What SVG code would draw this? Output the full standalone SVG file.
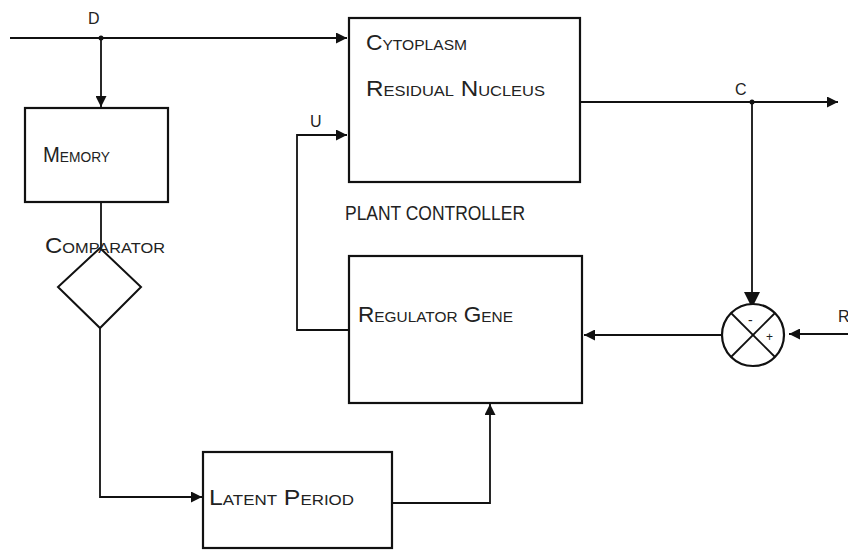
<svg xmlns="http://www.w3.org/2000/svg" width="848" height="552" viewBox="0 0 848 552">
<defs>
<marker id="ah" viewBox="0 0 10 10" refX="10" refY="5" markerWidth="15" markerHeight="11" markerUnits="userSpaceOnUse" orient="auto">
<path d="M0,0 L10,5 L0,10 z" fill="#111"/>
</marker>
<marker id="ahBig" viewBox="0 0 10 10" refX="10" refY="5" markerWidth="22" markerHeight="16" markerUnits="userSpaceOnUse" orient="auto">
<path d="M0,0 L10,5 L0,10 z" fill="#111"/>
</marker>
</defs>
<style>
.box{fill:#fff;stroke:#111;stroke-width:2.2}
.ln{fill:none;stroke:#111;stroke-width:1.8}
.t{font-family:"Liberation Sans Narrow","Liberation Sans",sans-serif;font-size:22px;fill:#222;font-variant:small-caps}
.lab{font-family:"Liberation Sans",sans-serif;font-size:16px;fill:#222}
</style>
<rect width="848" height="552" fill="#fff"/>
<g id="connectors">
<path class="ln" d="M10,38 L347,38" marker-end="url(#ah)"/>
<path class="ln" d="M101,38 L101,107" marker-end="url(#ah)"/>
<path class="ln" d="M101,203 L101,248"/>
<path class="ln" d="M100,328 L100,497 L202,497" marker-end="url(#ah)"/>
<path class="ln" d="M392,503 L490,503 L490,404" marker-end="url(#ah)"/>
<path class="ln" d="M349,330 L297,330 L297,135 L347,135" marker-end="url(#ah)"/>
<path class="ln" d="M580,102 L838,102" marker-end="url(#ah)"/>
<path class="ln" d="M752,102 L752,308" marker-end="url(#ahBig)"/>
<path class="ln" d="M848,334 L789,334" marker-end="url(#ah)"/>
<path class="ln" d="M721,335 L584,335" marker-end="url(#ah)"/>
<circle cx="101" cy="38" r="2.5" fill="#111"/>
<circle cx="752" cy="102" r="2.5" fill="#111"/>
</g>
<g id="plant">
<rect class="box" x="349" y="18" width="231" height="164"/>
<text class="t" x="366" y="50" textLength="101" lengthAdjust="spacingAndGlyphs">Cytoplasm</text>
<text class="t" x="366" y="96" textLength="179" lengthAdjust="spacingAndGlyphs">Residual Nucleus</text>
<text class="t" x="345" y="220" textLength="180" lengthAdjust="spacingAndGlyphs" style="font-variant:normal;font-size:21px">PLANT CONTROLLER</text>
</g>
<g id="memory">
<rect class="box" x="25" y="108" width="143" height="94"/>
<text class="t" x="43" y="162" textLength="67" lengthAdjust="spacingAndGlyphs">Memory</text>
</g>
<g id="comparator">
<polygon class="box" points="100,248 141,287 100,328 58,287" style="stroke-width:2"/>
<text class="t" x="45" y="253" textLength="120" lengthAdjust="spacingAndGlyphs">Comparator</text>
</g>
<g id="regulator">
<rect class="box" x="349" y="256" width="233" height="147"/>
<text class="t" x="358" y="322" textLength="155" lengthAdjust="spacingAndGlyphs">Regulator Gene</text>
</g>
<g id="latent">
<rect class="box" x="203" y="452" width="189" height="96"/>
<text class="t" x="209" y="505" textLength="145" lengthAdjust="spacingAndGlyphs">Latent Period</text>
</g>
<g id="summer">
<circle cx="753" cy="335" r="31" fill="#fff" stroke="#111" stroke-width="2.2"/>
<line class="ln" x1="731" y1="313" x2="775" y2="357"/>
<line class="ln" x1="775" y1="313" x2="731" y2="357"/>
<text class="lab" x="748" y="325" style="font-size:14px">-</text>
<text class="lab" x="766" y="341" style="font-size:12px">+</text>
</g>
<g id="labels">
<text class="lab" x="88" y="24">D</text>
<text class="lab" x="310" y="127">U</text>
<text class="lab" x="735" y="95">C</text>
<text class="lab" x="838" y="322">R</text>
</g>
</svg>
